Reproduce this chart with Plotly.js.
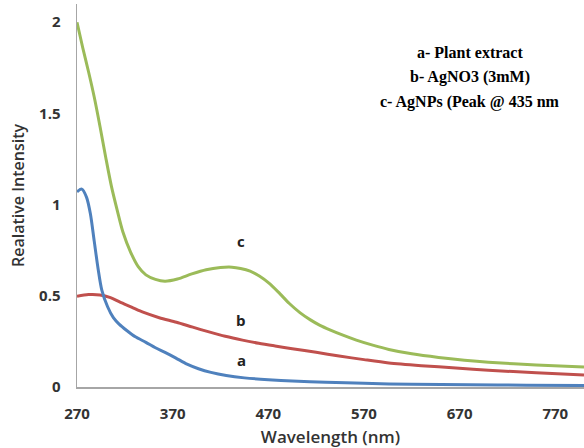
<!DOCTYPE html>
<html>
<head>
<meta charset="utf-8">
<script src="https://cdn.plot.ly/plotly-3.0.1.min.js"></script>
<style>html,body{margin:0;padding:0;background:#fff;}#chart{width:584px;height:448px;}</style>
</head>
<body>
<div id="chart"></div>
<script>
// Series a - Plant extract (blue)
const wlA = [270,275,280,284,288,292,296,302,308,314,322,331,342,352,362,373,385,397,410,426,445,470,495,530,570,620,680,740,800];
const valA = [1.07,1.085,1.04,0.95,0.80,0.65,0.53,0.44,0.38,0.345,0.31,0.275,0.245,0.215,0.19,0.16,0.125,0.10,0.08,0.063,0.05,0.04,0.033,0.026,0.02,0.015,0.012,0.01,0.008];
// Series b - AgNO3 (3mM) (red)
const wlB = [270,282,294,305,315,327,339,356,374,391,408,425,443,460,477,495,520,544,570,596,630,666,700,750,800];
const valB = [0.497,0.507,0.505,0.49,0.465,0.438,0.41,0.38,0.355,0.328,0.302,0.278,0.257,0.240,0.225,0.21,0.19,0.17,0.15,0.132,0.117,0.104,0.092,0.078,0.066];
// Series c - AgNPs (green)
const wlC = [270,276,282,288,294,300,306,312,318,326,334,342,352,362,375,390,405,420,432,441,451,461,471,482,492,503,514,524,535,548,562,580,596,620,648,675,700,750,800];
const valC = [2.00,1.86,1.73,1.59,1.43,1.26,1.10,0.97,0.85,0.74,0.66,0.615,0.59,0.58,0.592,0.62,0.643,0.655,0.657,0.65,0.635,0.607,0.568,0.512,0.458,0.408,0.368,0.338,0.312,0.284,0.257,0.228,0.206,0.182,0.162,0.147,0.136,0.121,0.11];

const xTicks = [270,370,470,570,670,770];
const yTicks = [0,0.5,1,1.5,2];
const yTickText = ['0','0.5','1','1.5','2'];
const legendLines = ['a- Plant extract','b- AgNO3 (3mM)','c- AgNPs (Peak @ 435 nm'];
const curveLabels = ['a','b','c'];

const mk = (x,y,color)=>({x:x,y:y,type:'scatter',mode:'lines',line:{color:color,width:3,shape:'spline',smoothing:0.8},hoverinfo:'skip'});
const data = [mk(wlB,valB,'#C0504D'), mk(wlA,valA,'#4F81BD'), mk(wlC,valC,'#9BBB59')];

const tickFont = {family:'Open Sans, sans-serif', size:15, color:'#333', weight:'bold'};
const titleFont = {family:'Open Sans, sans-serif', size:16, color:'#333', weight:600};
const legFont = {family:'Liberation Serif, serif', size:16, color:'#000', weight:'bold'};
const lblFont = {family:'Open Sans, sans-serif', size:15, color:'#222', weight:'bold'};
const layout = {
  width:584, height:448,
  margin:{l:77,r:0,t:4,b:61},
  paper_bgcolor:'#fff', plot_bgcolor:'#fff',
  showlegend:false,
  xaxis:{range:[270,800], tickvals:xTicks, showline:true, linecolor:'#A6A6A6', linewidth:1.5,
    showgrid:false, zeroline:false, ticks:'', tickfont:tickFont, ticklabelstandoff:12,
    title:{text:'Wavelength (nm)', font:{family:'Open Sans, sans-serif', size:17, color:'#333', weight:600}, standoff:16}},
  yaxis:{range:[0,2.1], tickvals:yTicks, ticktext:yTickText, showline:true, linecolor:'#A6A6A6', linewidth:1.5,
    showgrid:false, zeroline:false, ticks:'', tickfont:tickFont, ticklabelstandoff:12,
    title:{text:'Realative Intensity', font:titleFont, standoff:10}},
  annotations:[
    {x:681,y:1.836,xref:'x',yref:'y',text:legendLines[0],showarrow:false,font:legFont},
    {x:681,y:1.700,xref:'x',yref:'y',text:legendLines[1],showarrow:false,font:legFont},
    {x:681,y:1.565,xref:'x',yref:'y',text:legendLines[2],showarrow:false,font:legFont},
    {x:441.5,y:0.148,xref:'x',yref:'y',text:curveLabels[0],showarrow:false,font:lblFont},
    {x:441.5,y:0.367,xref:'x',yref:'y',text:curveLabels[1],showarrow:false,font:lblFont},
    {x:441.5,y:0.80,xref:'x',yref:'y',text:curveLabels[2],showarrow:false,font:lblFont}
  ]
};
Plotly.newPlot('chart', data, layout, {staticPlot:true, displayModeBar:false});
</script>
</body>
</html>
